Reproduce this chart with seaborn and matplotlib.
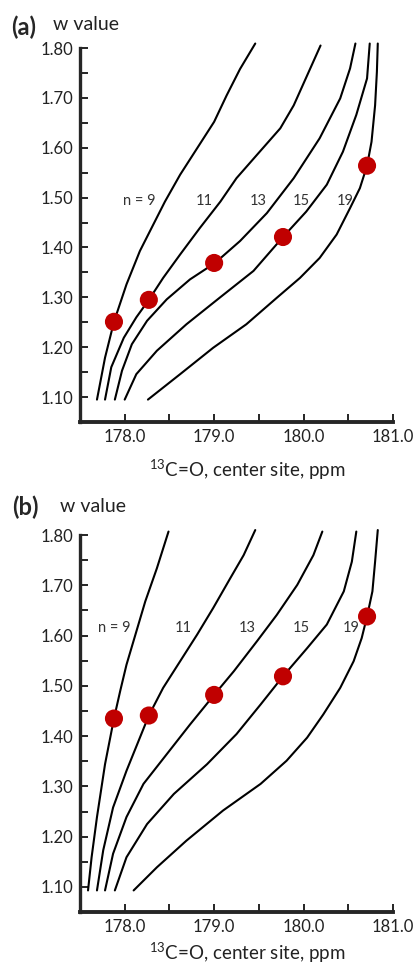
import numpy as np
import pandas as pd
import matplotlib
matplotlib.use('Agg')
import matplotlib.pyplot as plt
import seaborn as sns
from matplotlib.ticker import MultipleLocator, FormatStrFormatter

# measured points (center-site 13C shift, w value)
shifts = [177.88, 178.27, 179.00, 179.77, 180.71]
w_a = [1.251, 1.295, 1.369, 1.421, 1.564]
w_b = [1.435, 1.441, 1.482, 1.519, 1.638]
chain_labels = ['n = 9', '11', '13', '15', '19']

# calculated curves, panel (a)
a9_x = [177.69, 177.78, 177.88, 178.02, 178.17, 178.30, 178.45, 178.62, 178.81, 179.00, 179.14, 179.29, 179.46]
a9_y = [1.095, 1.179, 1.251, 1.326, 1.393, 1.439, 1.492, 1.546, 1.599, 1.652, 1.705, 1.758, 1.809]
a11_x = [177.78, 177.85, 177.99, 178.13, 178.27, 178.43, 178.62, 178.84, 179.07, 179.25, 179.48, 179.74, 179.89, 180.04, 180.19]
a11_y = [1.095, 1.160, 1.219, 1.260, 1.295, 1.339, 1.386, 1.439, 1.492, 1.539, 1.586, 1.639, 1.685, 1.745, 1.805]
a13_x = [177.89, 177.97, 178.08, 178.25, 178.47, 178.73, 179.01, 179.29, 179.59, 179.89, 180.18, 180.41, 180.52, 180.58]
a13_y = [1.095, 1.153, 1.206, 1.253, 1.296, 1.336, 1.369, 1.413, 1.469, 1.539, 1.619, 1.699, 1.759, 1.809]
a15_x = [178.00, 178.13, 178.36, 178.69, 179.06, 179.44, 179.77, 180.03, 180.26, 180.44, 180.59, 180.71, 180.74]
a15_y = [1.095, 1.146, 1.193, 1.246, 1.299, 1.353, 1.421, 1.472, 1.526, 1.592, 1.666, 1.739, 1.809]
a19_x = [178.26, 178.62, 178.99, 179.36, 179.70, 179.96, 180.18, 180.37, 180.52, 180.63, 180.71, 180.76, 180.80, 180.82, 180.83]
a19_y = [1.095, 1.146, 1.199, 1.246, 1.299, 1.339, 1.379, 1.426, 1.479, 1.519, 1.564, 1.612, 1.685, 1.752, 1.809]

# calculated curves, panel (b)
b9_x = [177.59, 177.63, 177.69, 177.78, 177.88, 177.95, 178.02, 178.12, 178.23, 178.36, 178.49]
b9_y = [1.093, 1.159, 1.239, 1.344, 1.435, 1.490, 1.542, 1.602, 1.668, 1.734, 1.807]
b11_x = [177.69, 177.76, 177.87, 178.02, 178.17, 178.27, 178.43, 178.62, 178.81, 178.99, 179.18, 179.33, 179.46]
b11_y = [1.093, 1.173, 1.258, 1.331, 1.397, 1.441, 1.496, 1.549, 1.602, 1.655, 1.714, 1.760, 1.810]
b13_x = [177.78, 177.87, 178.02, 178.21, 178.47, 178.73, 179.00, 179.22, 179.48, 179.70, 179.93, 180.11, 180.21]
b13_y = [1.093, 1.166, 1.239, 1.305, 1.364, 1.423, 1.482, 1.529, 1.589, 1.641, 1.701, 1.760, 1.807]
b15_x = [177.89, 178.02, 178.25, 178.55, 178.92, 179.25, 179.52, 179.77, 180.04, 180.26, 180.45, 180.54, 180.59]
b15_y = [1.093, 1.159, 1.225, 1.285, 1.344, 1.404, 1.463, 1.519, 1.575, 1.622, 1.688, 1.747, 1.807]
b19_x = [178.10, 178.36, 178.69, 179.10, 179.52, 179.81, 180.04, 180.22, 180.41, 180.56, 180.65, 180.71, 180.77, 180.80, 180.83]
b19_y = [1.093, 1.139, 1.192, 1.252, 1.305, 1.351, 1.397, 1.443, 1.496, 1.549, 1.595, 1.638, 1.688, 1.747, 1.810]

# curve label anchor points
lab_a_x = [178.16, 178.89, 179.49, 179.98, 180.46]
lab_a_y = [1.494] * 5
lab_b_x = [177.88, 178.66, 179.37, 179.97, 180.53]
lab_b_y = [1.615] * 5

sns.set_style('ticks')
plt.rcParams['font.family'] = ['Lato', 'DejaVu Sans']
plt.rcParams['mathtext.fontset'] = 'custom'
plt.rcParams['mathtext.rm'] = 'Lato'

fig = plt.figure(figsize=(4.17, 9.64), dpi=100)
ax_a = fig.add_axes([0.1918, 0.5622, 0.7506, 0.3942])
ax_b = fig.add_axes([0.1918, 0.0539, 0.7506, 0.3973])

panels = [
    (ax_a, [(a9_x, a9_y), (a11_x, a11_y), (a13_x, a13_y), (a15_x, a15_y), (a19_x, a19_y)],
     w_a, lab_a_x, lab_a_y, -0.091),
    (ax_b, [(b9_x, b9_y), (b11_x, b11_y), (b13_x, b13_y), (b15_x, b15_y), (b19_x, b19_y)],
     w_b, lab_b_x, lab_b_y, -0.073),
]

for ax, curves, w, lx, ly, label_y in panels:
    for cx, cy in curves:
        sns.lineplot(x=cx, y=cy, sort=False, estimator=None, color='black',
                     linewidth=1.5, ax=ax, legend=False)
    pts = pd.DataFrame({'shift': shifts, 'w': w})
    sns.scatterplot(data=pts, x='shift', y='w', color='#c00000', s=170,
                    edgecolor='none', ax=ax, zorder=5, legend=False)
    for txt, x, y in zip(chain_labels, lx, ly):
        ax.text(x, y, txt, ha='center', va='center', fontsize=10.5, color='#333333')

    ax.set_xlim(177.5, 181.0)
    ax.set_ylim(1.05, 1.812)
    ax.xaxis.set_minor_locator(MultipleLocator(0.5))
    ax.yaxis.set_minor_locator(MultipleLocator(0.05))
    ax.set_xticks([178, 179, 180, 181])
    ax.set_yticks(np.round(np.arange(1.1, 1.81, 0.1), 2))
    ax.xaxis.set_major_formatter(FormatStrFormatter('%.1f'))
    ax.yaxis.set_major_formatter(FormatStrFormatter('%.2f'))
    ax.tick_params(which='both', direction='in', length=6, width=1.2, colors='black',
                   labelsize=12, labelcolor='#222222')
    ax.tick_params(axis='y', pad=5)
    ax.tick_params(axis='x', pad=5)
    sns.despine(ax=ax)
    ax.spines['left'].set_linewidth(2.4)
    ax.spines['bottom'].set_linewidth(2.8)
    ax.spines['left'].set_bounds(1.05, 1.80)
    ax.set_xlabel('$^{13}$C=O, center site, ppm', fontsize=13.5, color='#222222')
    ax.xaxis.set_label_coords(0.535, label_y)
    ax.set_ylabel('')

fig.text(0.026, 0.9637, '(a)', fontsize=17, fontweight='bold', va='baseline')
fig.text(0.127, 0.9689, 'w value', fontsize=14, va='baseline', color='#222222')
fig.text(0.029, 0.4658, '(b)', fontsize=17, fontweight='bold', va='baseline')
fig.text(0.144, 0.4689, 'w value', fontsize=14, va='baseline', color='#222222')

fig.savefig('out.png', dpi=100)
